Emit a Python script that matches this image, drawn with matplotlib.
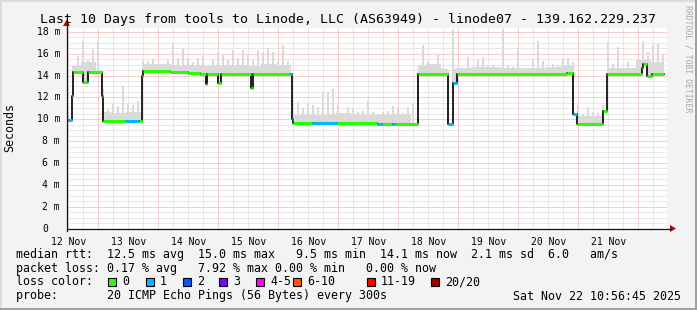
import matplotlib
matplotlib.use("Agg")
import matplotlib.pyplot as plt
import numpy as np
from matplotlib.lines import Line2D
from matplotlib.patches import Polygon, Rectangle

# --- data: time in hours since 12 Nov 00:00, rtt in ms ---
day_labels = ["12 Nov", "13 Nov", "14 Nov", "15 Nov", "16 Nov",
              "17 Nov", "18 Nov", "19 Nov", "20 Nov", "21 Nov"]
y_ticks = [0, 2, 4, 6, 8, 10, 12, 14, 16, 18]
y_tick_labels = ["0", "2 m", "4 m", "6 m", "8 m", "10 m", "12 m", "14 m", "16 m", "18 m"]

# median rtt steps: start hour, value, loss bucket (index into loss_labels)
median_start = [11.28, 13.33, 14.0, 18.0, 19.33, 20.0, 25.33, 26.0, 34.67, 40.33,
                41.33, 42.0, 52.67, 60.0, 64.67, 67.0, 67.67, 72.0, 73.0, 85.0,
                86.0, 100.67, 101.33, 102.0, 109.33, 119.33, 135.33, 137.33, 141.33, 142.67,
                152.0, 164.0, 166.0, 167.33, 211.33, 214.0, 215.33, 226.0, 227.33, 241.33,
                242.0, 243.33, 245.33]
median_ms = [9.9, 12.1, 14.35, 13.4, 13.4, 14.35, 12.1, 9.85, 9.85, 9.85,
             14.0, 14.4, 14.35, 14.2, 14.15, 13.25, 14.1, 13.35, 14.1, 12.9,
             14.1, 14.1, 10.0, 9.65, 9.65, 9.65, 9.6, 9.6, 9.6, 9.6,
             14.15, 9.55, 13.35, 14.1, 14.2, 10.45, 9.6, 10.75, 14.1, 14.7,
             15.05, 14.0, 14.1]
median_loss = [1, 0, 0, 0, 1, 0, 0, 0, 1, 0,
               0, 0, 0, 0, 0, 0, 0, 0, 0, 0,
               0, 1, 1, 0, 1, 0, 1, 0, 1, 0,
               0, 1, 1, 0, 0, 1, 0, 0, 0, 0,
               0, 0, 0]
median_end = 250.3

# smoke spikes: highest ping per 2-hour column, starting at hour 11
smoke_first_hour = 11.0
smoke_hours = 2.0
smoke_max = [11.3, 14.9, 15.8, 17.2, 15.4, 16.4, 17.2, 12.8, 10.9, 11.4,
             11.2, 13.0, 11.4, 11.3, 11.7, 15.3, 15.3, 15.5, 14.9, 15.0,
             15.4, 16.9, 15.6, 16.5, 15.6, 15.2, 15.6, 16.0, 15.0, 15.4,
             16.2, 16.0, 15.4, 16.3, 15.6, 16.3, 15.9, 15.4, 16.3, 16.2,
             16.5, 16.2, 15.2, 16.8, 15.3, 11.7, 11.6, 11.0, 11.4, 11.3,
             11.1, 12.5, 12.5, 12.8, 11.3, 10.5, 11.1, 11.0, 10.7, 10.8,
             11.75, 10.7, 10.5, 10.7, 10.8, 11.2, 11.0, 10.6, 11.1, 11.4,
             11.3, 16.8, 15.3, 15.1, 15.9, 14.7, 14.5, 18.3, 14.5, 14.7,
             15.7, 14.65, 15.4, 15.7, 14.95, 15.0, 14.8, 18.3, 15.0, 14.8,
             16.5, 14.65, 14.5, 15.4, 17.2, 15.3, 14.8, 15.1, 14.95, 15.6,
             15.65, 15.25, 11.3, 10.5, 11.1, 10.7, 10.6, 11.3, 17.1, 15.1,
             16.6, 14.65, 15.25, 14.65, 15.25, 17.2, 16.2, 16.8, 16.9, 15.9]

# smoke body: typical upper ping level per 6-hour column, starting at hour 11
body_hours = 6.0
smoke_body = [14.9, 15.2, 10.7, 10.6, 10.7, 15.1, 15.1, 15.0, 15.0, 14.9,
              15.0, 15.0, 14.9, 15.1, 15.0, 10.4, 10.4, 10.5, 10.6, 10.5,
              10.4, 10.4, 10.5, 15.0, 15.1, 14.6, 14.7, 14.8, 14.8, 14.7,
              14.7, 14.7, 14.8, 15.0, 10.3, 10.3, 14.7, 14.7, 15.4, 15.2]

loss_labels = ["0", "1", "2", "3", "4-5", "6-10", "11-19", "20/20"]
loss_colors = ["#26ff00", "#00b8ff", "#0059ff", "#7e00ff",
               "#ff00ff", "#ff5500", "#ff0000", "#a10000"]

title = "Last 10 Days from tools to Linode, LLC (AS63949) - linode07 - 139.162.229.237"
stats_rtt = "median rtt:  12.5 ms avg  15.0 ms max   9.5 ms min  14.1 ms now  2.1 ms sd  6.0   am/s"
stats_loss = "packet loss: 0.17 % avg   7.92 % max 0.00 % min   0.00 % now"
probe_text = "probe:       20 ICMP Echo Pings (56 Bytes) every 300s"
stamp_text = "Sat Nov 22 10:56:45 2025"

# --- figure ---
W, H = 697, 310
MONO = "DejaVu Sans Mono"


def fx(px):
    return px / W


def fy(py):
    return 1 - py / H


fig = plt.figure(figsize=(W / 100, H / 100), dpi=100, facecolor="#f3f3f3")

# 3d-ish border of the rrdtool image
fig.add_artist(Rectangle((0, fy(2)), 1, 2 / H, transform=fig.transFigure, color="#dcdcdc", lw=0))
fig.add_artist(Rectangle((0, 0), 2 / W, 1, transform=fig.transFigure, color="#dcdcdc", lw=0))
fig.add_artist(Rectangle((0, 0), 1, 2 / H, transform=fig.transFigure, color="#a0a0a0", lw=0))
fig.add_artist(Rectangle((1 - 2 / W, 0), 2 / W, 1, transform=fig.transFigure, color="#a0a0a0", lw=0))

left, right, top, bottom = 66.5, 666.5, 27.5, 228.5
ax = fig.add_axes([fx(left), fy(bottom), (right - left) / W, (bottom - top) / H])
ax.set_facecolor("white")
ax.set_xlim(11.28, 251.28)
ax.set_ylim(0, 18.4)
for s in ax.spines.values():
    s.set_visible(False)
ax.set_xticks([])
ax.set_yticks([])

# grid
dots = (0, (1, 1))
for v in np.arange(0.5, 18.4, 0.5):
    major = abs(v / 2 - round(v / 2)) < 1e-9
    ax.axhline(v, color="#f2a0a0" if major else "#d2d2d2", lw=0.72, ls=dots, zorder=1)
for h in np.arange(12, 251, 6):
    major = h % 24 == 0
    ax.axvline(h, color="#f2a0a0" if major else "#d2d2d2", lw=0.72, ls=dots, zorder=1)

# median lookup for smoke base
starts = np.array(median_start)
vals = np.array(median_ms)


def median_at(h):
    i = np.searchsorted(starts, h, side="right") - 1
    return vals[max(i, 0)]


smoke_grey = "#dadada"

# smoke body: drawn per 6h column, split where the median changes level;
# pieces where the body level belongs to the other side of a jump are skipped
for k, body in enumerate(smoke_body):
    h0 = max(smoke_first_hour + k * body_hours, median_start[0])
    h1 = min(smoke_first_hour + (k + 1) * body_hours, median_end)
    cuts = [h0] + [s for s in median_start if h0 < s < h1] + [h1]
    for a, b in zip(cuts[:-1], cuts[1:]):
        base = median_at((a + b) / 2) - 0.15
        if base + 0.3 < body < base + 2.5:
            ax.bar(a, body - base, bottom=base, width=b - a, align="edge",
                   color=smoke_grey, lw=0, zorder=2)

# smoke spikes
for k, top_ms in enumerate(smoke_max):
    hc = smoke_first_hour + (k + 0.5) * smoke_hours
    if hc > median_end:
        continue
    base = median_at(hc) - 0.15
    ax.bar(hc, top_ms - base, bottom=base, width=0.9, align="center",
           color=smoke_grey, lw=0, zorder=2)

# median: black step line plus colored level segments
ends = median_start[1:] + [median_end]
ax.step(median_start + [median_end], median_ms + [median_ms[-1]], where="post",
        color="#111111", lw=1.3, zorder=3)
for s0, s1, v, c in zip(median_start, ends, median_ms, median_loss):
    ax.plot([s0, s1], [v, v], color=loss_colors[c], lw=2.2,
            solid_capstyle="butt", zorder=4)

# axes lines with arrows
fig.add_artist(Line2D([fx(left), fx(671)], [fy(bottom), fy(bottom)], color="#101010", lw=0.9))
fig.add_artist(Line2D([fx(left), fx(left)], [fy(bottom + 2), fy(23)], color="#101010", lw=0.9))
fig.add_artist(Polygon([[fx(670), fy(bottom - 3.5)], [fx(676), fy(bottom)], [fx(670), fy(bottom + 3.5)]],
                       closed=True, transform=fig.transFigure, color="#a01010", lw=0))
fig.add_artist(Polygon([[fx(left - 3.5), fy(26)], [fx(left), fy(20)], [fx(left + 3.5), fy(26)]],
                       closed=True, transform=fig.transFigure, color="#a01010", lw=0))

# tick labels
for v, lab in zip(y_ticks, y_tick_labels):
    xr = 48 if lab == "0" else 60
    fig.text(fx(xr), fy(bottom - v * (bottom - top) / 18.4), lab, ha="right", va="center",
             fontsize=7, family=MONO)
for i, lab in enumerate(day_labels):
    h = 12 + 24 * i
    ax.text(h, -0.75, lab, ha="center", va="top", fontsize=7, family=MONO,
            transform=ax.transData, clip_on=False)

# texts
fig.text(fx(348), fy(19), title, ha="center", va="center", fontsize=9.55, family=MONO)
fig.text(fx(10), fy(128), "Seconds", rotation=90, ha="center", va="center", fontsize=8.4, family=MONO)
fig.text(fx(688), fy(5), "RRDTOOL / TOBI OETIKER", rotation=270, ha="center", va="top",
         fontsize=5.9, family=MONO, color="#a8a8a8")

fig.text(fx(16), fy(254.3), stats_rtt, ha="left", va="center", fontsize=8.4, family=MONO)
fig.text(fx(16), fy(268.3), stats_loss, ha="left", va="center", fontsize=8.4, family=MONO)
fig.text(fx(16), fy(281.7), "loss color:", ha="left", va="center", fontsize=8.4, family=MONO)
box_x = [108, 145.7, 182.7, 219.3, 256, 293.3, 366.7, 430.7]
for bx, lab, col in zip(box_x, loss_labels, loss_colors):
    fig.add_artist(Rectangle((fx(bx), fy(285.7)), 8 / W, 8 / H, transform=fig.transFigure,
                             facecolor=col, edgecolor="black", lw=0.8))
    fig.text(fx(bx + 14), fy(281.7), lab, ha="left", va="center", fontsize=8.4, family=MONO)
fig.text(fx(16), fy(296), probe_text, ha="left", va="center", fontsize=8.4, family=MONO)
fig.text(fx(681), fy(296), stamp_text, ha="right", va="center", fontsize=8.4, family=MONO)

fig.savefig("out.png", dpi=100, facecolor=fig.get_facecolor())
